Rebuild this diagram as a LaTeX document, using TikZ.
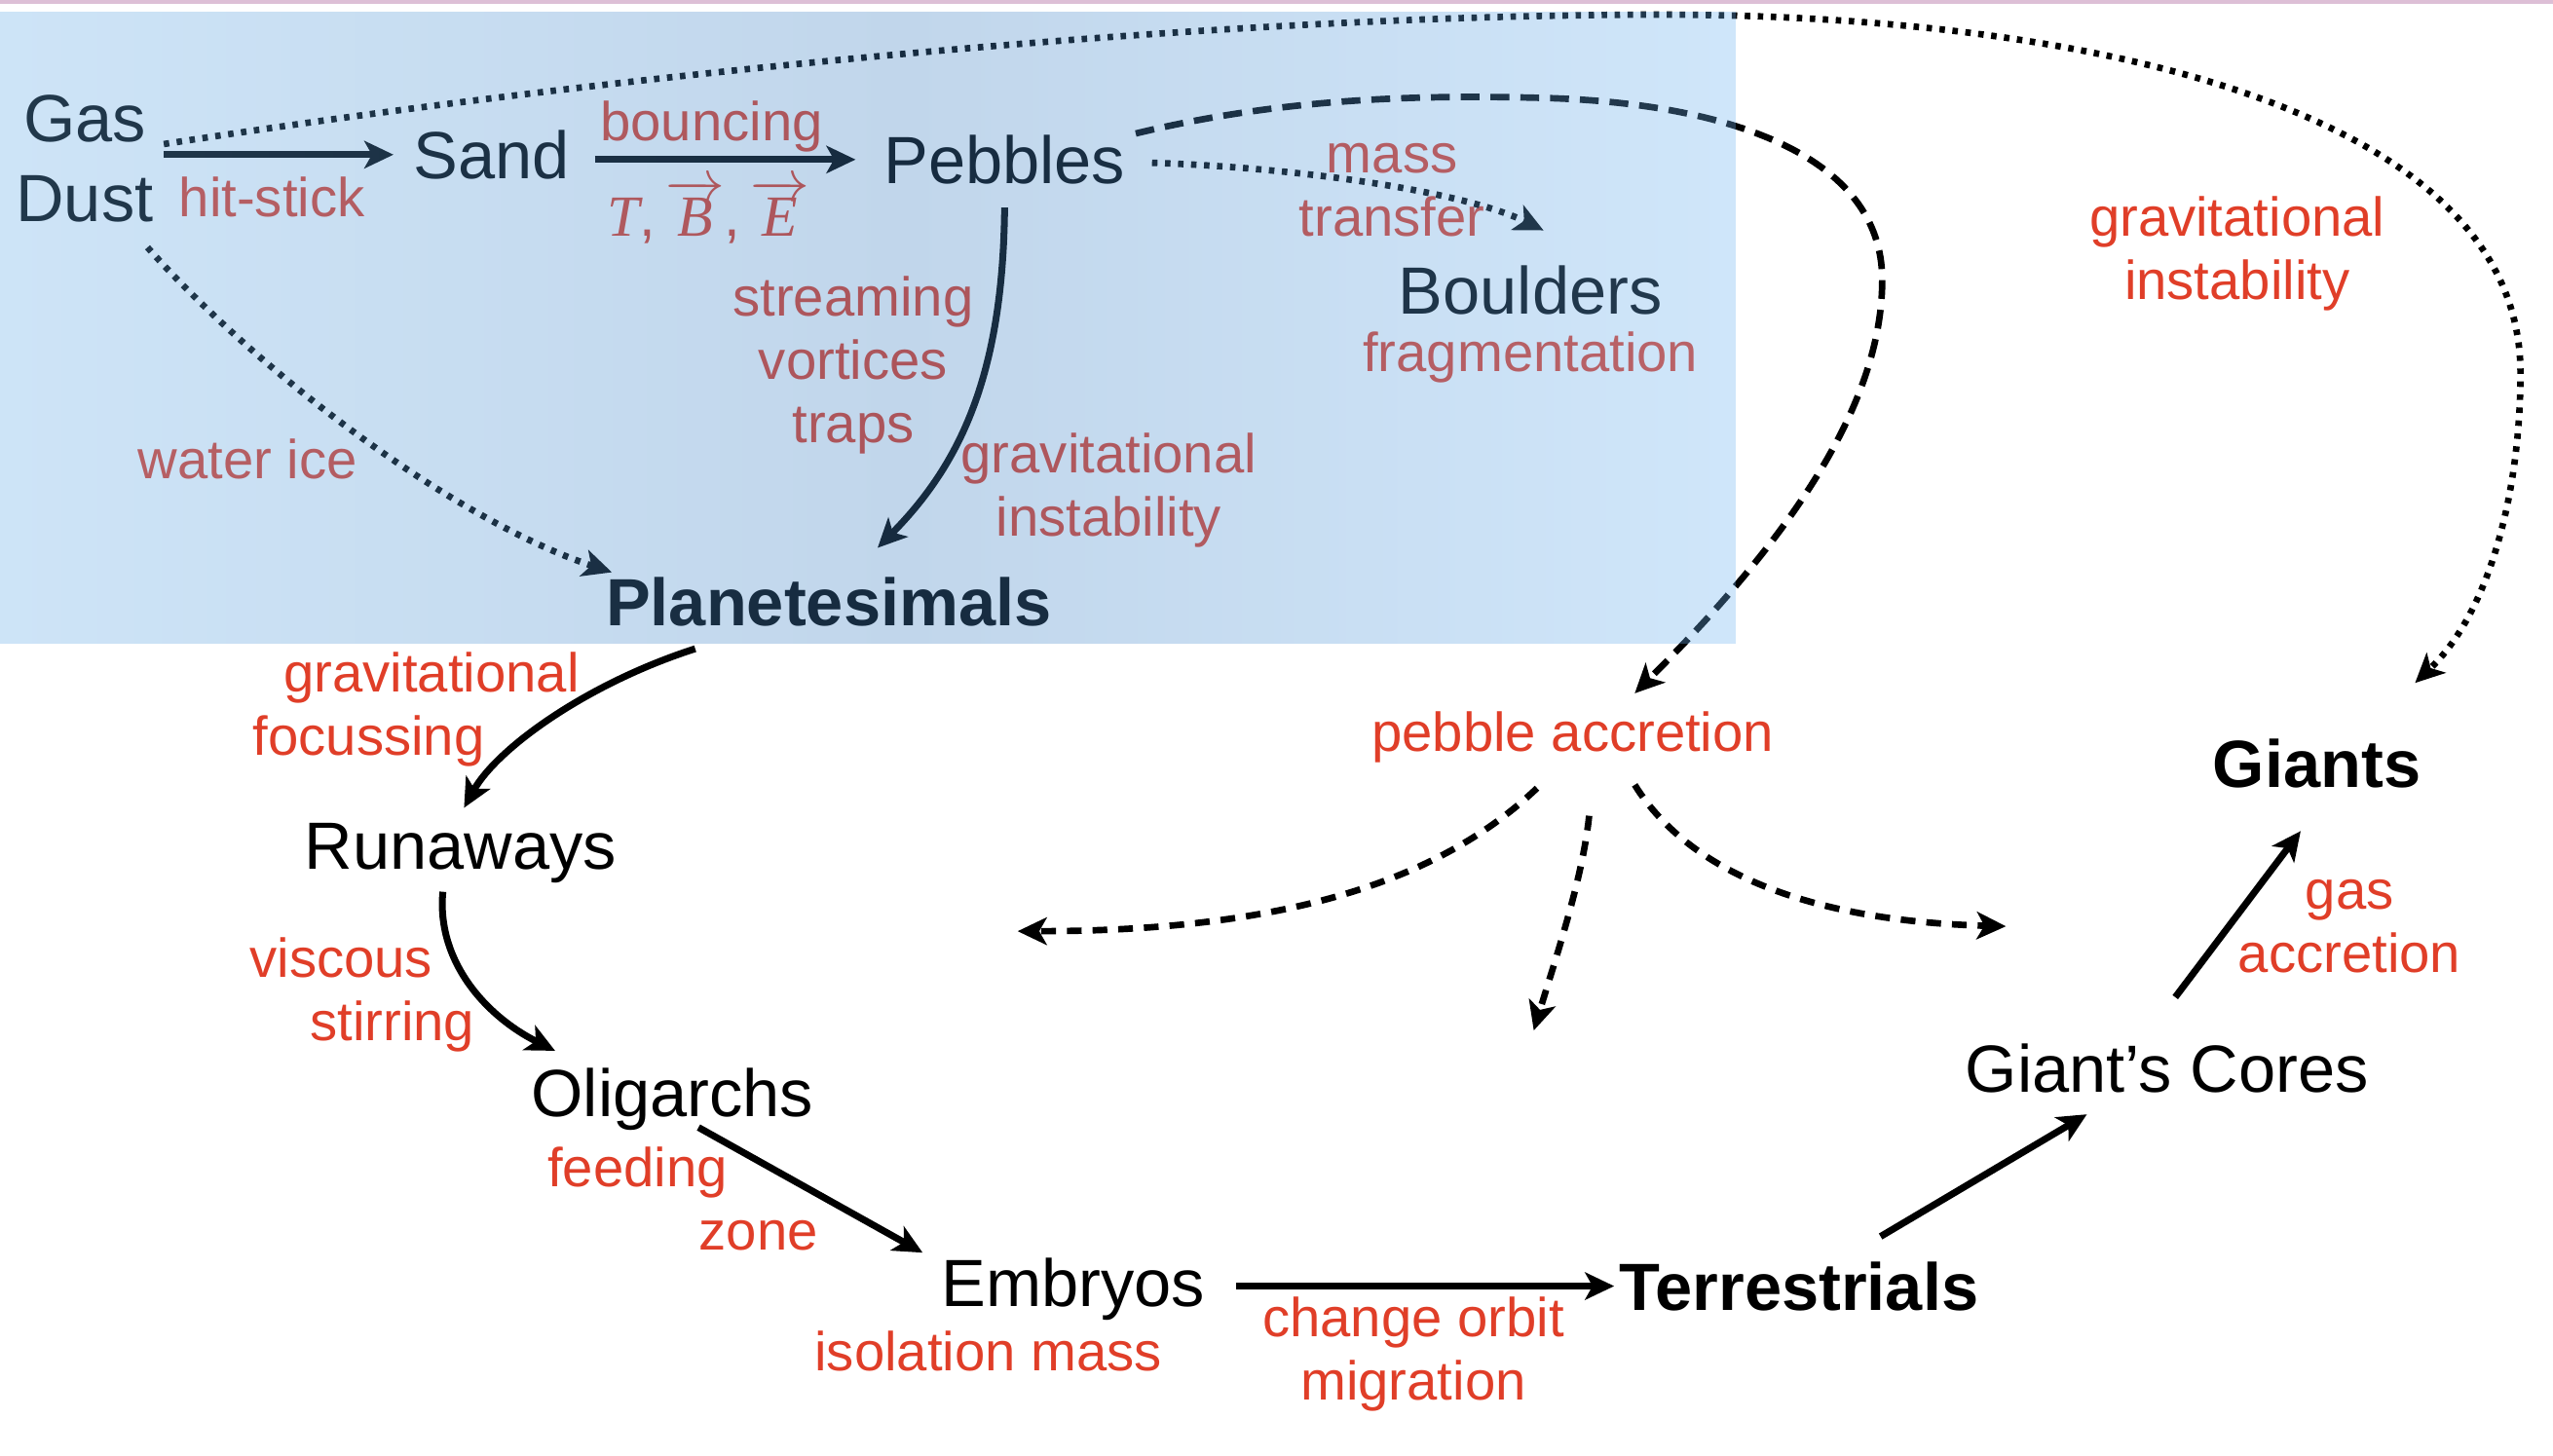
\documentclass[tikz,border=0pt]{standalone}
\usepackage{fontspec}
\setmainfont{Liberation Sans}
\newfontfamily\tbefont{Liberation Serif}
\usetikzlibrary{arrows.meta,calc}
\definecolor{lblred}{RGB}{224,62,40}
\definecolor{stripe}{RGB}{221,191,214}
\definecolor{ovL}{RGB}{104,173,231}
\definecolor{ovM}{RGB}{67,131,194}
\definecolor{ovR}{RGB}{110,179,240}
\pgfdeclarehorizontalshading{ovshade}{100bp}{color(0bp)=(ovL); color(25bp)=(ovL); color(51bp)=(ovM); color(75bp)=(ovR); color(100bp)=(ovR)}
\begin{document}
\begin{tikzpicture}[x=0.0167156cm, y=-0.0167156cm,
  main/.style={inner sep=0pt, font=\fontsize{19.5}{23.3}\selectfont, text=black},
  mainb/.style={inner sep=0pt, font=\fontsize{19.5}{23.3}\selectfont\bfseries, text=black},
  lbl/.style={inner sep=0pt, font=\fontsize{16}{18.5}\selectfont, text=lblred, align=center},
  lbll/.style={lbl, align=left, anchor=west},
  arrtip/.style={-{Stealth[length=8.5pt,width=8pt,inset=2.2pt]}},
  solidarrow/.style={arrtip, line width=2pt, draw=black},
  dotarrow/.style={arrtip, line width=1.9pt, draw=black, dash pattern=on 1.6pt off 2.2pt},
  dasharrow/.style={arrtip, line width=1.9pt, draw=black, dash pattern=on 5.5pt off 3.2pt},
  fanarrow/.style={arrtip, line width=1.9pt, draw=black, dash pattern=on 4.3pt off 3.2pt},
]
\useasboundingbox (0,0) rectangle (1568,894);
\fill[stripe] (0,0) rectangle (1568,2.4);

% main nodes
\node[main, align=center] (gasdust) at (52,97.5) {Gas\\Dust};
\node[main] (sand) at (302,95) {Sand};
\node[main] (pebbles) at (617,98) {Pebbles};
\node[main] (boulders) at (940,178) {Boulders};
\node[mainb] (plan) at (509,370) {Planetesimals};
\node[main] (runaways) at (283,524) {Runaways};
\node[main] (olig) at (413,675) {Oligarchs};
\node[main] (embryos) at (659,792) {Embryos};
\node[mainb] (terr) at (1105,790) {Terrestrials};
\node[main] (cores) at (1331,656) {Giant’s Cores};
\node[mainb] (giants) at (1423,469) {Giants};
\node[lbl] (pebacc) at (966,453) {pebble accretion};

% labels
\node[lbl] (lhit) at (167,121) {hit-stick};
\node[lbl] (lbounce) at (437,77.5) {bouncing};
\node[lbl, font=\fontsize{17}{20}\selectfont] (ltbe) at (435,130)
  {{\tbefont\itshape T},\,$\overrightarrow{\hbox{\tbefont\itshape B}}$,\,$\overrightarrow{\hbox{\tbefont\itshape E}}$};
\node[lbl] (lmass) at (855,117) {mass\\transfer};
\node[lbl] (lfrag) at (940,219.5) {fragmentation};
\node[lbl] (lstream) at (524,224.5) {streaming\\vortices\\traps};
\node[lbl] (lgi1) at (681,301) {gravitational\\instability};
\node[lbl] (lwater) at (152,282) {water ice};
\node[lbl] (lgi2) at (1374,156) {gravitational\\instability};
\node[lbll] (lfocus) at (155,436) {\hspace*{9pt}gravitational\\focussing};
\node[lbll] (lvisc) at (153,611) {viscous\\\hspace*{17.6pt}stirring};
\node[lbll] (lfeed) at (336,736.5) {feeding\\\hspace*{44.2pt}zone};
\node[lbl] (liso) at (607,830) {isolation mass};
\node[lbl] (lorbit) at (868,832) {change orbit\\migration};
\node[lbl] (lgas) at (1443,569) {gas\\accretion};

% free ends of the pebble accretion fan
\coordinate (fanL) at (625,572);
\coordinate (fanM) at (942,633);
\coordinate (fanR) at (1232,569);

% connectors
\draw[solidarrow] ($(gasdust.east)+(6,-2.5)$) -- ($(sand.west)+(-12,0)$);
\draw[solidarrow] ($(sand.east)+(15,3)$) -- ($(pebbles.west)+(-17,0)$);
\draw[solidarrow] ($(pebbles.south)+(0,14)$) .. controls (616,230) and (590,285) .. ($(plan.north)+(30,-18)$);
\draw[dotarrow] ($(gasdust.south east)+(-4,15)$) .. controls (160,230) and (280,320) .. ($(plan.north west)+(4,-3)$);
\draw[dotarrow] ($(gasdust.east)+(6,-9)$) .. controls (400,42) and (760,9) .. (1020,9)
  .. controls (1290,9) and (1548,70) .. (1548,229)
  .. controls (1548,300) and (1530,375) .. ($(giants.north east)+(-4,-34)$);
\draw[dotarrow] ($(pebbles.east)+(16,2)$) .. controls (800,103) and (900,118) .. ($(boulders.north)+(8,-21)$);
\draw[dasharrow] ($(pebbles.east)+(6,-16)$) .. controls (780,62) and (860,58) .. (941,60)
  .. controls (1060,62) and (1156,95) .. (1156,172)
  .. controls (1156,260) and (1080,350) .. ($(pebacc.north)+(38,-11)$);
\draw[fanarrow] ($(pebacc.south)+(-22,15)$) .. controls (880,545) and (780,572) .. (fanL);
\draw[fanarrow] ($(pebacc.south)+(10,32)$) .. controls (972,540) and (955,590) .. (fanM);
\draw[fanarrow] ($(pebacc.south)+(38,13)$) .. controls (1040,540) and (1120,566) .. (fanR);
\draw[solidarrow] ($(plan.south)+(-82,13)$) .. controls (360,420) and (305,460) .. ($(runaways.north)+(2,-9)$);
\draw[solidarrow] ($(runaways.south)+(-11,5)$) .. controls (268,590) and (298,624) .. ($(olig.north west)+(15,-10)$);
\draw[solidarrow] ($(olig.south)+(16,-2)$) -- ($(embryos.north west)+(-11,-3)$);
\draw[solidarrow] ($(embryos.east)+(19,-2)$) -- ($(terr.west)+(-3,0)$);
\draw[solidarrow] ($(terr.north)+(50,-15)$) -- ($(cores.south west)+(75,13)$);
\draw[solidarrow] ($(cores.north)+(5,-28)$) -- ($(giants.south)+(-10,26)$);

% translucent blue overlay
\shade[shading=ovshade, opacity=0.33] (0,7.2) rectangle (1066,395);
\end{tikzpicture}
\end{document}
